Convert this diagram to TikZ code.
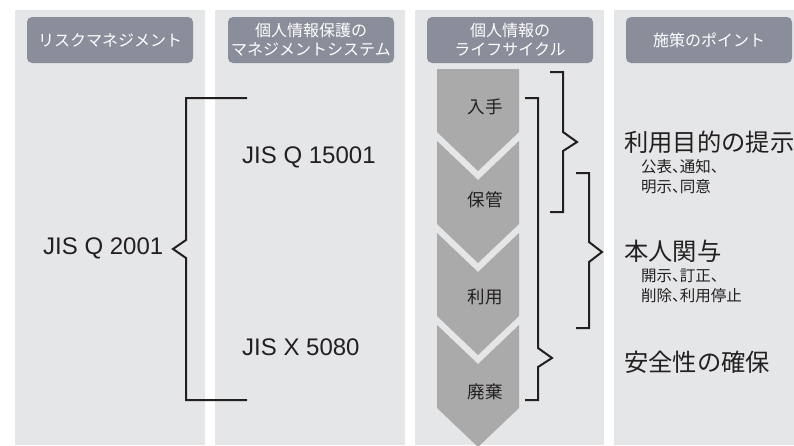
\documentclass[tikz,border=0pt]{standalone}
\usepackage{fontspec}
\setmainfont{Liberation Sans}
\newfontfamily\jp{Noto Sans CJK JP}
\newfontfamily\jpp[RawFeature=+palt]{Noto Sans CJK JP}
\definecolor{panelbg}{HTML}{E5E6E8}
\definecolor{hdr}{HTML}{898E9A}
\definecolor{chev}{HTML}{AAAAAA}
\definecolor{ink}{HTML}{231F20}
\begin{document}
\begin{tikzpicture}[x=1pt,y=-1pt,
  panel/.style={fill=panelbg},
  hdrbox/.style={fill=hdr, rounded corners=5pt, minimum width=166pt, minimum height=46pt, inner sep=0pt, text=white, align=center, font=\jp\fontsize{16}{19}\selectfont},
  chevseg/.style={fill=chev},
  steplabel/.style={text=ink, inner sep=0pt, font=\jp\fontsize{17.5}{18}\selectfont},
  jis/.style={text=ink, inner sep=0pt, anchor=west, font=\fontsize{24}{26}\selectfont},
  bigjp/.style={text=ink, inner sep=0pt, anchor=west, font=\jp\fontsize{24.3}{26}\selectfont},
  subjp/.style={text=ink, inner sep=0pt, anchor=west, font=\jpp\fontsize{15.5}{16}\selectfont},
  brk/.style={draw=ink, line width=2pt, line join=miter}]
\useasboundingbox (0,0) rectangle (794,445);
\fill[white] (0,0) rectangle (794,445);
% panels
\fill[panel] (15,10) rectangle (205,445);
\fill[panel] (215,10) rectangle (405,445);
\fill[panel] (415,10) rectangle (604,445);
\fill[panel] (614,10) rectangle (794,445);
% headers
\node[hdrbox] (h1) at (110,40) {リスクマネジメント};
\node[hdrbox] (h2) at (311,40) {個人情報保護の\\マネジメントシステム};
\node[hdrbox] (h3) at (510,40) {個人情報の\\ライフサイクル};
\node[hdrbox] (h4) at (709,40) {施策のポイント};
% chevrons
\fill[chevseg] (437,69) -- (519,69) -- (519,132) -- (478,171) -- (437,132) -- cycle;
\fill[chevseg] (437,141) -- (478,180) -- (519,141) -- (519,224) -- (478,263) -- (437,224) -- cycle;
\fill[chevseg] (437,233) -- (478,272) -- (519,233) -- (519,316) -- (478,355) -- (437,316) -- cycle;
\fill[chevseg] (437,325) -- (478,364) -- (519,325) -- (519,408) -- (478,447) -- (437,408) -- cycle;
\node[steplabel] (s1) at (485,107) {入手};
\node[steplabel] (s2) at (485,200) {保管};
\node[steplabel] (s3) at (485,297) {利用};
\node[steplabel] (s4) at (485,392) {廃棄};
% JIS labels
\node[jis] (q2001) at (43,248) {JIS Q 2001};
\node[jis] (q15001) at (242,157) {JIS Q 15001};
\node[jis] (x5080) at (242,347) {JIS X 5080};
% points
\node[bigjp] (p1) at (624,142) {利用目的の提示};
\node[subjp] (p1a) at (641,167) {公表、通知、};
\node[subjp] (p1b) at (641,187) {明示、同意};
\node[bigjp] (p2) at (624,251) {本人関与};
\node[subjp] (p2a) at (641,276) {開示、訂正、};
\node[subjp] (p2b) at (641,296) {削除、利用停止};
\node[bigjp] (p3) at (624,362) {安全性の確保};
% bracket coordinates
\coordinate (L1) at (247,98); \coordinate (L2) at (247,400); \coordinate (Ltip) at (173,249);
\coordinate (A1) at (550,72); \coordinate (A2) at (550,212); \coordinate (Atip) at (577,142);
\coordinate (B1) at (525,98); \coordinate (B2) at (525,400); \coordinate (Btip) at (552,358);
\coordinate (C1) at (576,173); \coordinate (C2) at (576,328); \coordinate (Ctip) at (602,252);
\draw[brk] (L1) -- (186,98) -- (186,240) -- (Ltip) -- (186,258) -- (186,400) -- (L2);
\draw[brk] (A1) -- (563,72) -- (563,132) -- (Atip) -- (563,151) -- (563,212) -- (A2);
\draw[brk] (B1) -- (538,98) -- (538,348) -- (Btip) -- (538,367) -- (538,400) -- (B2);
\draw[brk] (C1) -- (589,173) -- (589,242) -- (Ctip) -- (589,262) -- (589,328) -- (C2);
\end{tikzpicture}
\end{document}
